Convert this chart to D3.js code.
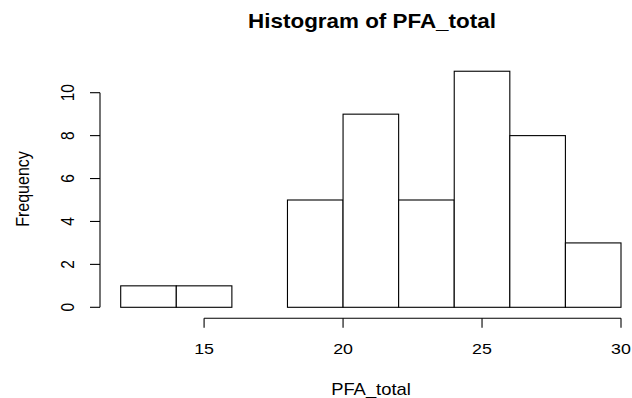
<!DOCTYPE html>
<html>
<head>
<meta charset="utf-8">
<script src="https://cdn.jsdelivr.net/npm/d3@7"></script>
<style>
  body { margin: 0; background: #fff; }
  svg { display: block; }
  text { font-family: "Liberation Sans", Arial, sans-serif; fill: #000; }
</style>
</head>
<body>
<svg id="chart" width="632" height="398"></svg>
<script>
"use strict";

// histogram bins of PFA_total (break points) and counts
const breaks = [12, 14, 16, 18, 20, 22, 24, 26, 28, 30];
const counts = [1, 1, 0, 5, 9, 5, 11, 8, 3];
const xTicks = [15, 20, 25, 30];
const yTicks = [0, 2, 4, 6, 8, 10];

const title = "Histogram of PFA_total";
const xLabel = "PFA_total";
const yLabel = "Frequency";

// the reference is stretched a bit horizontally
const stretch = 1.15;

const svg = d3.select("#chart");

const x = d3.scaleLinear().domain([12, 30]).range([120.7, 621]);
const y = d3.scaleLinear().domain([0, 10]).range([307.3, 92.7]);

const bins = counts.map((c, i) => ({ x0: breaks[i], x1: breaks[i + 1], n: c }));

// bars
svg.append("g")
  .selectAll("rect")
  .data(bins)
  .join("rect")
  .attr("x", (d) => x(d.x0))
  .attr("y", (d) => y(d.n))
  .attr("width", (d) => x(d.x1) - x(d.x0))
  .attr("height", (d) => y(0) - y(d.n))
  .attr("fill", "#fff")
  .attr("stroke", "#000")
  .attr("stroke-width", 1.1);

// x axis (R style: line spans first..last tick)
const xAxis = svg.append("g").attr("transform", "translate(0,318.3)");
xAxis.append("line")
  .attr("x1", x(xTicks[0])).attr("x2", x(xTicks[xTicks.length - 1]))
  .attr("stroke", "#000").attr("stroke-width", 1.1);
xAxis.selectAll("line.tick")
  .data(xTicks)
  .join("line")
  .attr("class", "tick")
  .attr("x1", (d) => x(d)).attr("x2", (d) => x(d))
  .attr("y1", 0).attr("y2", 9.5)
  .attr("stroke", "#000").attr("stroke-width", 1.1);
xAxis.selectAll("text")
  .data(xTicks)
  .join("text")
  .attr("transform", (d) => `translate(${x(d)},36) scale(${stretch},1)`)
  .attr("text-anchor", "middle")
  .attr("font-size", 15.5)
  .text((d) => d);

// y axis
const yAxis = svg.append("g").attr("transform", "translate(100,0)");
yAxis.append("line")
  .attr("y1", y(yTicks[0])).attr("y2", y(yTicks[yTicks.length - 1]))
  .attr("stroke", "#000").attr("stroke-width", 1.1);
yAxis.selectAll("line.tick")
  .data(yTicks)
  .join("line")
  .attr("class", "tick")
  .attr("y1", (d) => y(d)).attr("y2", (d) => y(d))
  .attr("x1", 0).attr("x2", -10)
  .attr("stroke", "#000").attr("stroke-width", 1.1);
yAxis.selectAll("text")
  .data(yTicks)
  .join("text")
  .attr("transform", (d) => `translate(-26,${y(d)}) scale(${stretch},1) rotate(-90)`)
  .attr("text-anchor", "middle")
  .attr("font-size", 15.5)
  .text((d) => d);

// labels
svg.append("text")
  .attr("transform", `translate(372,28) scale(${stretch},1)`)
  .attr("text-anchor", "middle")
  .attr("font-size", 19.5)
  .attr("font-weight", "bold")
  .text(title);

svg.append("text")
  .attr("transform", `translate(371,395) scale(${stretch},1)`)
  .attr("text-anchor", "middle")
  .attr("font-size", 16)
  .text(xLabel);

svg.append("text")
  .attr("transform", `translate(29,189) scale(${stretch},1) rotate(-90)`)
  .attr("text-anchor", "middle")
  .attr("font-size", 16)
  .text(yLabel);
</script>
</body>
</html>
